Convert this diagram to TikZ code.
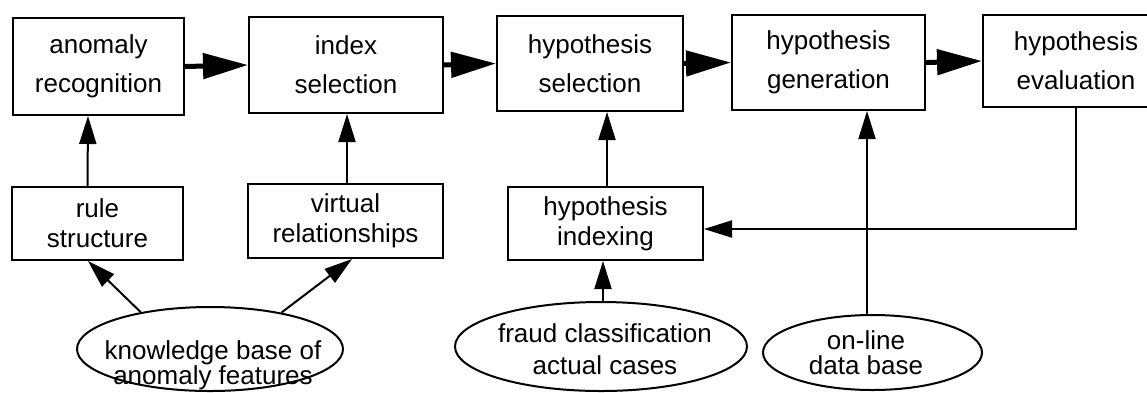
\documentclass[tikz,border=0pt]{standalone}
\usepackage{fontspec}
\setmainfont{Liberation Sans}
\usetikzlibrary{arrows.meta,shapes.geometric}
\begin{document}
\begin{tikzpicture}[x=1pt,y=-1pt,
  box/.style={draw, line width=2pt, rectangle, inner sep=0pt, align=center,
              font=\fontsize{26}{39}\selectfont},
  lowbox/.style={box, font=\fontsize{26}{30}\selectfont},
  oval/.style={draw, line width=2pt, ellipse, inner sep=0pt},
  ovaltext/.style={align=center, inner sep=0pt},
  flow/.style={line width=5pt, -{Triangle[length=45pt,width=25pt]}},
  feed/.style={line width=2pt, -{Triangle[length=28pt,width=17pt]}},
]
\useasboundingbox (0,0) rectangle (1147,392);
\clip (0,0) rectangle (1147,392);

% main processing chain
\node[box, minimum width=171pt, minimum height=97pt] (ar) at (98.5,66.5) {anomaly\\recognition};
\node[box, minimum width=194pt, minimum height=96pt] (is) at (346,65) {index\\selection};
\node[box, minimum width=186pt, minimum height=95pt] (hs) at (590,63.5) {hypothesis\\selection};
\node[box, minimum width=193pt, minimum height=95pt] (hg) at (828.5,62.5) {hypothesis\\generation};
\node[box, minimum width=186pt, minimum height=92pt] (he) at (1076,61) {hypothesis\\evaluation};

% supporting modules
\node[lowbox, minimum width=171pt, minimum height=73pt] (rs) at (97.5,223.5) {rule\\structure};
\node[lowbox, minimum width=195pt, minimum height=74pt] (vr) at (345.5,221) {virtual\\relationships};
\node[lowbox, minimum width=195pt, minimum height=73pt] (hi) at (605.5,223.5) {hypothesis\\indexing};

% knowledge sources
\node[oval, minimum width=266pt, minimum height=84pt] (kb) at (210,349) {};
\node[ovaltext, font=\fontsize{26}{24}\selectfont] (kbt) at (213,365) {knowledge base of\\anomaly features};
\node[oval, minimum width=292pt, minimum height=89pt] (fc) at (601,346.5) {};
\node[ovaltext, font=\fontsize{26}{32}\selectfont] (fct) at (605,349.5) {fraud classification\\actual cases};
\node[oval, minimum width=219pt, minimum height=75pt] (od) at (872.5,352.5) {};
\node[ovaltext, font=\fontsize{26}{25}\selectfont] (odt) at (866,353) {on-line\\data base};

% main flow
\draw[flow] (ar.east) -- (is.west);
\draw[flow] (is.east) -- (hs.west);
\draw[flow] (hs.east) -- (hg.west);
\draw[flow] (hg.east) -- (he.west);

% feeds into the chain
\draw[feed] ([xshift=-10pt]rs.north) -- ([xshift=-10.5pt]ar.south);
\draw[feed] ([xshift=1.5pt]vr.north) -- ([xshift=1pt]is.south);
\draw[feed] ([xshift=1.5pt]hi.north) -- ([xshift=17pt]hs.south);
\draw[feed] ([xshift=2pt]fc.north) -- ([xshift=-2.5pt]hi.south);
\draw[feed] ([xshift=-5.5pt]od.north) -- ([xshift=38.5pt]hg.south);
\draw[feed, line join=miter] (he.south) |- ([yshift=-5.5pt]hi.east);
\draw[feed] (kb.152.5) -- ([xshift=-9.5pt]rs.south);
\draw[feed] (kb.27.5) -- ([xshift=6.5pt]vr.south);
\end{tikzpicture}
\end{document}
